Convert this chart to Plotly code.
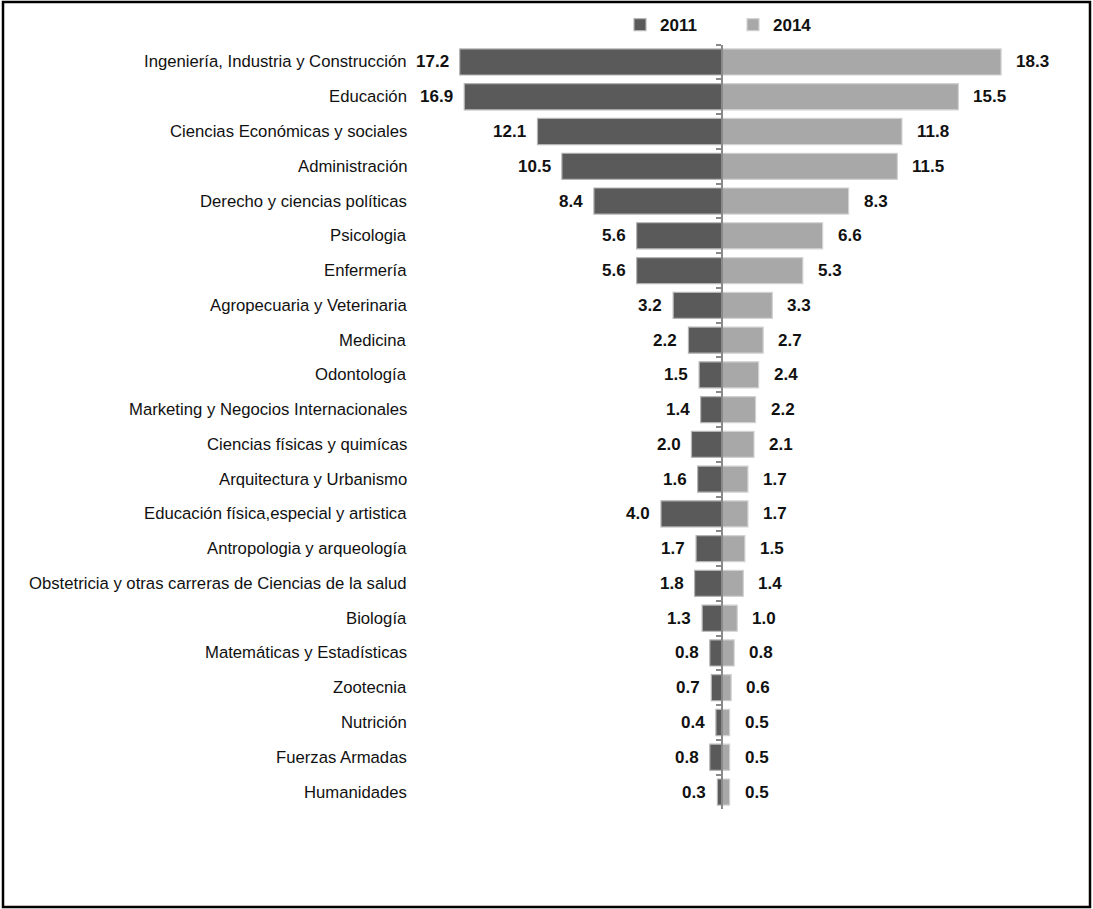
import plotly.graph_objects as go

categories = [
    "Ingeniería, Industria y Construcción",
    "Educación",
    "Ciencias Económicas y sociales",
    "Administración",
    "Derecho y ciencias políticas",
    "Psicologia",
    "Enfermería",
    "Agropecuaria y Veterinaria",
    "Medicina",
    "Odontología",
    "Marketing y Negocios Internacionales",
    "Ciencias físicas y quimícas",
    "Arquitectura y Urbanismo",
    "Educación física,especial y artistica",
    "Antropologia y arqueología",
    "Obstetricia y otras carreras de Ciencias de la salud",
    "Biología",
    "Matemáticas y Estadísticas",
    "Zootecnia",
    "Nutrición",
    "Fuerzas Armadas",
    "Humanidades",
]
values_2011 = [17.2, 16.9, 12.1, 10.5, 8.4, 5.6, 5.6, 3.2, 2.2, 1.5, 1.4, 2.0, 1.6, 4.0, 1.7, 1.8, 1.3, 0.8, 0.7, 0.4, 0.8, 0.3]
values_2014 = [18.3, 15.5, 11.8, 11.5, 8.3, 6.6, 5.3, 3.3, 2.7, 2.4, 2.2, 2.1, 1.7, 1.7, 1.5, 1.4, 1.0, 0.8, 0.6, 0.5, 0.5, 0.5]
series_names = ["2011", "2014"]

W, H = 1093, 909
CX = 722.0
SCALE = 15.25
PX0, PX1 = 430.0, 1060.0
xr = [-(CX - PX0) / SCALE, (PX1 - CX) / SCALE]
top_px, bot_px = 44.6, 809.4

LABEL_FONT = "Liberation Sans Narrow, Arial Narrow, Liberation Sans, Arial, sans-serif"
VAL_FONT = "Liberation Sans Narrow, Arial Narrow, Liberation Sans, Arial, sans-serif"

fig = go.Figure()
fig.add_trace(go.Bar(
    y=categories, x=[-v for v in values_2011], orientation="h", name="<b>" + series_names[0] + "</b>",
    marker=dict(color="#5a5a5a", line=dict(color="#b4b4b4", width=1.2)),
    hoverinfo="skip",
))
fig.add_trace(go.Bar(
    y=categories, x=values_2014, orientation="h", name="<b>" + series_names[1] + "</b>",
    marker=dict(color="#a8a8a8", line=dict(color="#d2d2d2", width=1.2)),
    hoverinfo="skip",
))

annotations = []
for c, v in zip(categories, values_2011):
    annotations.append(dict(x=-v, y=c, xref="x", yref="y", text=f"<b>{v:.1f}</b>",
                            showarrow=False, xanchor="right", xshift=-9,
                            font=dict(family=VAL_FONT, size=17, color="#111")))
for c, v in zip(categories, values_2014):
    annotations.append(dict(x=v, y=c, xref="x", yref="y", text=f"<b>{v:.1f}</b>",
                            showarrow=False, xanchor="left", xshift=13,
                            font=dict(family=VAL_FONT, size=17, color="#111")))
for c in categories:
    annotations.append(dict(x=409 / W, y=c, xref="paper", yref="y", text=c,
                            showarrow=False, xanchor="right",
                            font=dict(family=LABEL_FONT, size=16.7, color="#111")))

fig.update_layout(
    width=W, height=H,
    margin=dict(l=0, r=0, t=0, b=0),
    paper_bgcolor="white", plot_bgcolor="white",
    barmode="overlay", bargap=0.25,
    xaxis=dict(domain=[PX0 / W, PX1 / W], range=xr, showgrid=False, zeroline=False,
               showticklabels=False, showline=False, ticks=""),
    yaxis=dict(domain=[1 - bot_px / H, 1 - top_px / H], autorange="reversed",
               anchor="free", position=CX / W, showline=True, linecolor="#8a8a8a",
               linewidth=2, ticks="outside", tickson="boundaries", ticklen=5,
               tickcolor="#8a8a8a", tickwidth=2, showticklabels=False, showgrid=False),
    showlegend=True,
    legend=dict(orientation="h", x=620 / W, y=1 - 7 / H, xanchor="left", yanchor="top",
                font=dict(family="Liberation Sans Narrow, Arial Narrow, Liberation Sans, Arial", size=17, color="#111"),
                entrywidth=68, entrywidthmode="pixels", itemwidth=30,
                bgcolor="rgba(0,0,0,0)"),
    annotations=annotations,
    shapes=[dict(type="rect", xref="paper", yref="paper", x0=3 / W, x1=1090 / W,
                 y0=1 - 907 / H, y1=1 - 2 / H, line=dict(color="black", width=2.5))],
)

fig.write_html("out.html", config={"displayModeBar": False},
               post_script="document.body.style.margin='0';document.body.style.padding='0';")
